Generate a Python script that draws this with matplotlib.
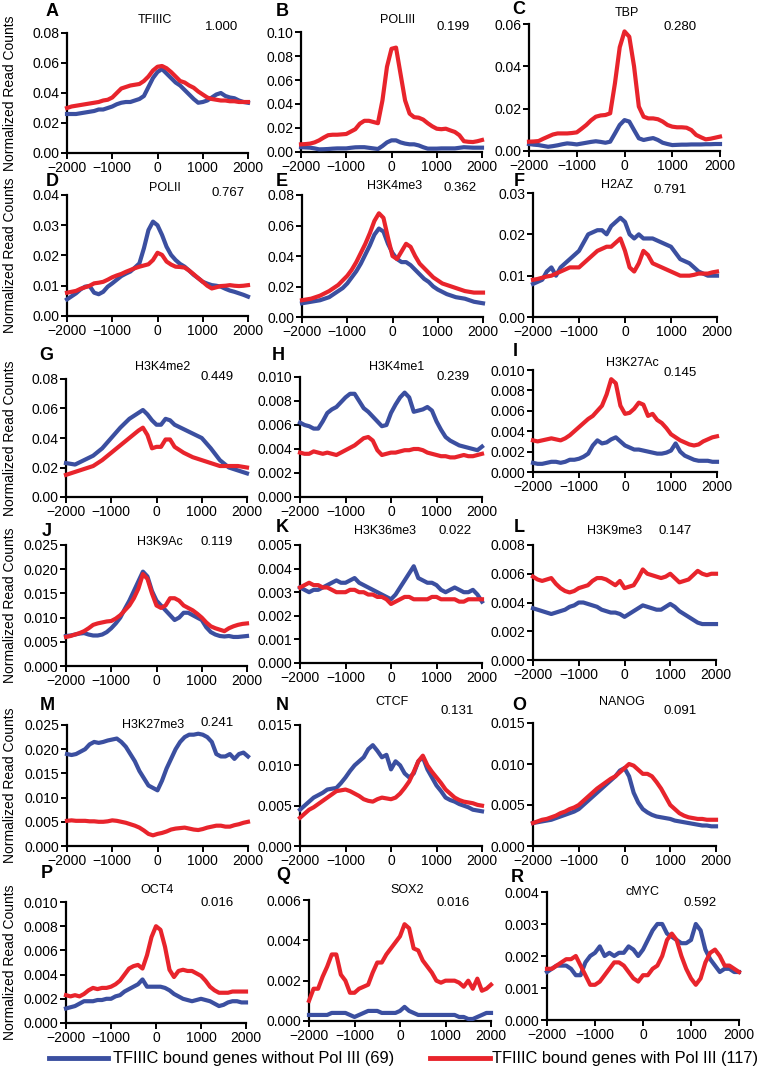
import numpy as np
import matplotlib
matplotlib.use("Agg")
import matplotlib.pyplot as plt
from matplotlib.ticker import FormatStrFormatter

plt.rcParams['font.family'] = ['Liberation Sans', 'DejaVu Sans']

BLUE = '#3b4fa0'
RED = '#e8242c'

# distance from TSS (bp)
pos = np.arange(-2000, 2001, 100)

A_red = [.030,.031,.0315,.032,.0325,.033,.0335,.034,.035,.0355,.037,.040,.043,.044,.045,.0455,.046,.048,.051,.055,
         .0575,.058,.0565,.054,.051,.048,.047,.045,.0435,.041,.039,.037,.036,.0355,.035,.035,.0345,.0345,.034,.034,.034]
A_blue = [.026,.026,.026,.0265,.027,.0275,.028,.029,.029,.030,.031,.0325,.0335,.034,.034,.035,.036,.038,.044,.050,
          .054,.056,.053,.050,.047,.045,.042,.039,.036,.0335,.034,.035,.037,.039,.040,.038,.037,.0365,.035,.034,.0335]

B_red = [.0064,.0066,.007,.008,.0097,.012,.014,.0144,.0144,.0147,.015,.017,.019,.0236,.026,.026,.025,.024,.043,.071,
         .086,.087,.065,.043,.032,.029,.0286,.027,.024,.0214,.0194,.019,.0194,.018,.0167,.014,.009,.0085,.0083,.009,.010]
B_blue = [.004,.0038,.0036,.003,.0022,.0023,.0025,.0028,.003,.003,.003,.0035,.0039,.004,.004,.0035,.003,.0025,.005,.008,
          .0097,.0097,.008,.007,.0064,.0064,.0055,.004,.0028,.0028,.0028,.003,.003,.003,.003,.0035,.004,.0038,.0036,.0036,.0036]

C_red = [.0044,.0045,.0047,.0058,.0068,.0078,.0083,.0083,.0083,.0085,.0088,.0105,.0123,.0145,.0162,.0168,.017,.0178,.032,.049,
         .0565,.054,.040,.021,.0162,.0154,.0154,.015,.0139,.0123,.0115,.0112,.0112,.011,.0099,.0076,.0065,.0055,.0058,.0063,.0068]
C_blue = [.0033,.003,.0028,.0024,.002,.0023,.0027,.0032,.0036,.0034,.0031,.0035,.0039,.0043,.0046,.0043,.0039,.0044,.0083,.0123,
          .0146,.0139,.0099,.006,.0052,.0057,.0061,.0052,.0039,.0033,.0028,.0029,.003,.003,.0031,.0031,.0031,.0032,.0032,.0033,.0033]

D_red = [.0077,.008,.0083,.009,.0095,.010,.0108,.011,.0113,.012,.0128,.0134,.0139,.0146,.0152,.0158,.0163,.0167,.0171,.0185,
         .0209,.0202,.018,.017,.0163,.0162,.016,.015,.0138,.0125,.0113,.010,.0091,.0095,.0099,.010,.0102,.010,.0099,.010,.0102]
D_blue = [.0055,.0065,.0075,.0088,.0097,.0099,.0077,.0072,.008,.0097,.0108,.012,.0132,.014,.0147,.016,.0174,.0224,.0284,.0312,
          .030,.0268,.0229,.0202,.0185,.0172,.0163,.015,.0136,.0125,.0113,.0107,.0102,.010,.0097,.009,.0084,.008,.0075,.007,.0064]

E_red = [.011,.0115,.012,.013,.014,.0155,.017,.019,.021,.024,.027,.031,.036,.042,.048,.055,.063,.068,.065,.052,
         .040,.038,.043,.048,.046,.040,.035,.032,.029,.026,.024,.022,.021,.020,.019,.018,.017,.0165,.016,.016,.016]
E_blue = [.009,.0095,.010,.0105,.011,.012,.013,.015,.017,.019,.022,.026,.030,.035,.041,.047,.054,.058,.056,.048,
          .042,.038,.036,.036,.034,.031,.028,.025,.023,.020,.018,.0165,.015,.014,.013,.0125,.012,.011,.010,.0095,.009]

F_red = [.009,.0092,.0095,.0098,.010,.0105,.011,.0115,.012,.012,.012,.013,.014,.015,.016,.0165,.017,.017,.018,.019,
         .016,.012,.011,.013,.016,.015,.013,.0125,.012,.0115,.011,.0105,.010,.010,.010,.0102,.0105,.0105,.0105,.0108,.011]
F_blue = [.008,.0085,.009,.011,.012,.010,.012,.013,.014,.015,.016,.018,.020,.0205,.021,.021,.020,.022,.023,.024,
          .023,.020,.019,.020,.019,.019,.019,.0185,.018,.0175,.017,.0155,.014,.0135,.013,.012,.011,.0105,.010,.010,.010]

G_red = [.015,.016,.017,.018,.019,.020,.021,.023,.025,.0275,.030,.0325,.035,.0375,.040,.0425,.045,.047,.042,.033,
         .034,.034,.039,.039,.034,.032,.030,.0285,.027,.026,.025,.024,.023,.022,.021,.021,.021,.021,.021,.0205,.020]
G_blue = [.023,.0225,.022,.0235,.025,.0265,.028,.0305,.033,.0365,.040,.0435,.047,.050,.053,.055,.057,.059,.056,.052,
          .049,.049,.053,.052,.049,.0475,.046,.0445,.043,.0415,.040,.0365,.033,.029,.025,.0225,.020,.019,.018,.017,.016]

H_red = [.0037,.0036,.0036,.0038,.0037,.0036,.0037,.0036,.0035,.0037,.0039,.0041,.0043,.0046,.0049,.005,.0047,.0039,.0035,.0036,
         .0037,.0037,.0038,.0039,.0039,.0040,.004,.0039,.0037,.0036,.0035,.0034,.0034,.0033,.0033,.0034,.0035,.0034,.0034,.0035,.0036]
H_blue = [.0062,.006,.0059,.0057,.0057,.0063,.007,.0073,.0075,.0079,.0083,.0086,.0086,.008,.0074,.0071,.0067,.0063,.0059,.006,
          .007,.0077,.0083,.0087,.0083,.0071,.0072,.0073,.0075,.0072,.0063,.0056,.005,.0047,.0045,.0043,.0042,.0041,.004,.0039,.0042]

I_red = [.0031,.003,.0031,.0032,.0033,.0032,.0031,.0033,.0036,.004,.0044,.0048,.0052,.0055,.006,.0065,.0076,.0091,.0087,.0065,
         .0057,.0058,.0062,.0068,.0066,.0055,.0057,.0051,.0048,.0043,.0037,.0034,.0031,.0029,.0027,.0026,.0027,.003,.0032,.0034,.0035]
I_blue = [.0009,.0008,.0008,.0009,.001,.001,.0009,.001,.0012,.0012,.0013,.0015,.0018,.0026,.0031,.0028,.0029,.0032,.0034,.003,
          .0026,.0024,.0022,.0022,.0021,.002,.0019,.0018,.0018,.0019,.0021,.0028,.002,.0016,.0014,.0012,.0011,.0011,.0011,.001,.001]

J_red = [.006,.0062,.0065,.0068,.0072,.0078,.0085,.0088,.009,.0092,.0093,.0098,.0105,.0115,.0125,.014,.016,.019,.018,.015,
         .0125,.012,.0125,.014,.014,.0135,.0125,.012,.0115,.0108,.010,.009,.0082,.0078,.0075,.0072,.0078,.0082,.0085,.0087,.0088]
J_blue = [.0062,.0063,.0065,.0067,.0068,.0065,.0063,.0063,.0065,.007,.0078,.0088,.010,.0118,.0135,.0155,.0175,.0195,.0185,.0155,
          .0135,.0125,.0115,.0105,.0095,.010,.011,.011,.0105,.010,.0095,.008,.007,.0065,.0062,.0061,.0062,.006,.006,.0061,.0062]

K_red = [.0032,.0033,.0034,.0033,.0033,.0032,.0032,.0031,.003,.003,.003,.0031,.0031,.003,.003,.0029,.0029,.0028,.0028,.0027,
         .0025,.0026,.0027,.0028,.0028,.0027,.0027,.0027,.0027,.0028,.0028,.0027,.0027,.0027,.0027,.0026,.0026,.0027,.0027,.0027,.0027]
K_blue = [.0032,.0031,.003,.0031,.0031,.0032,.0033,.0034,.0035,.0034,.0034,.0035,.0036,.0034,.0033,.0032,.0031,.003,.0029,.0028,
          .0027,.0029,.0032,.0035,.0038,.0041,.0036,.0035,.0034,.0034,.0033,.0031,.003,.0031,.0032,.0031,.003,.003,.0031,.0029,.0026]

L_red = [.0058,.0056,.0055,.0056,.0057,.0053,.005,.0048,.0047,.0048,.005,.0051,.0052,.0055,.0057,.0057,.0056,.0054,.0052,.0055,
         .005,.0051,.0052,.0057,.0063,.006,.0059,.0058,.0057,.0058,.006,.0057,.0054,.0055,.0056,.0059,.0062,.006,.0059,.006,.006]
L_blue = [.0036,.0035,.0034,.0033,.0032,.0033,.0034,.0035,.0037,.0038,.004,.004,.0039,.0038,.0037,.0035,.0034,.0033,.0033,.0032,
          .003,.0032,.0034,.0036,.0038,.0037,.0036,.0035,.0035,.0037,.0039,.0037,.0034,.0032,.003,.0028,.0026,.0025,.0025,.0025,.0025]

M_red = [.0052,.0053,.0052,.0052,.0052,.0051,.0051,.005,.005,.0051,.0053,.0052,.005,.0048,.0045,.0042,.0038,.0032,.0025,.0022,
         .0025,.0027,.003,.0034,.0036,.0037,.0038,.0036,.0034,.0033,.0035,.0038,.004,.0042,.0042,.004,.004,.0043,.0045,.0048,.005]
M_blue = [.019,.0188,.019,.0195,.020,.021,.0215,.0213,.0215,.0218,.022,.0222,.0215,.0205,.019,.0175,.0155,.014,.0125,.012,
          .0115,.0135,.016,.018,.020,.0215,.0225,.023,.023,.0232,.023,.0225,.0215,.019,.0185,.0185,.019,.018,.019,.0193,.0185]

N_red = [.0035,.004,.0045,.0048,.0052,.0056,.006,.0064,.0068,.0069,.007,.0068,.0065,.0062,.0058,.0056,.0055,.0058,.006,.0059,
         .0058,.006,.0065,.0072,.008,.0092,.0105,.0112,.010,.0092,.0085,.0078,.007,.0065,.006,.0057,.0055,.0054,.0053,.0051,.005]
N_blue = [.0045,.005,.0055,.006,.0063,.0066,.007,.0071,.0072,.0078,.0085,.0093,.010,.0105,.011,.012,.0125,.0118,.011,.0113,
          .0095,.0105,.010,.009,.0085,.009,.0105,.011,.0095,.0085,.0075,.0068,.006,.0057,.0055,.0052,.005,.0048,.0045,.0044,.0043]

O_red = [.0028,.003,.0032,.0033,.0035,.0037,.004,.0042,.0045,.0047,.005,.0055,.006,.0065,.007,.0074,.0078,.0082,.0085,.009,
         .0095,.010,.0098,.0093,.0088,.0088,.0085,.0078,.007,.006,.005,.0045,.004,.0037,.0035,.0034,.0033,.0033,.0032,.0032,.0032]
O_blue = [.0028,.0029,.003,.0031,.0032,.0034,.0036,.0038,.004,.0042,.0045,.005,.0055,.006,.0065,.007,.0075,.008,.0085,.0092,
          .0095,.0085,.0065,.0053,.0045,.0041,.0038,.0036,.0035,.0034,.0033,.0031,.003,.0029,.0028,.0027,.0026,.0025,.0025,.0024,.0024]

P_red = [.0023,.0022,.0023,.0022,.0024,.0027,.0029,.0028,.0029,.0029,.003,.0032,.0035,.004,.0045,.0047,.0048,.0045,.0056,.0071,
         .008,.0077,.0063,.0044,.0038,.0043,.0044,.0043,.0043,.0041,.0039,.0035,.003,.0027,.0025,.0025,.0025,.0026,.0026,.0026,.0026]
P_blue = [.0012,.0013,.0014,.0016,.0018,.0018,.0018,.0019,.0019,.002,.002,.0022,.0023,.0026,.0028,.003,.0032,.0036,.003,.003,
          .003,.003,.0029,.0027,.0024,.0022,.002,.0019,.0018,.0019,.002,.0019,.0018,.0016,.0014,.0015,.0017,.0018,.0018,.0017,.0017]

Q_red = [.001,.0016,.0016,.0022,.0027,.0033,.0033,.0023,.002,.0014,.0014,.0016,.0017,.0018,.0024,.0029,.0029,.0033,.0036,.0039,
         .0042,.0048,.0046,.0036,.0035,.003,.0027,.0024,.002,.0019,.002,.002,.002,.0019,.0017,.002,.0016,.0021,.0015,.0016,.0018]
Q_blue = [.0003,.0003,.0003,.0003,.0003,.0004,.0004,.0004,.0004,.0003,.0002,.0003,.0004,.0005,.0005,.0005,.0004,.0004,.0004,.0004,
          .0005,.0007,.0005,.0004,.0003,.0003,.0003,.0003,.0003,.0003,.0003,.0003,.0003,.0002,.0002,.0001,.0001,.0002,.0003,.0004,.0004]

R_red = [.0016,.0016,.0017,.0018,.0019,.0019,.002,.0017,.0014,.0011,.0011,.0012,.0014,.0016,.0018,.0018,.0017,.0015,.0013,.0012,
         .0014,.0014,.0016,.0017,.002,.0025,.0027,.0025,.002,.0016,.0013,.0011,.0013,.0018,.0021,.0022,.002,.0017,.0017,.0016,.0015]
R_blue = [.0015,.0016,.0017,.0017,.0017,.0016,.0014,.0014,.0018,.002,.0021,.0023,.002,.0021,.002,.0021,.0021,.0023,.0022,.002,
          .0022,.0025,.0028,.003,.003,.0027,.0026,.0025,.0024,.0024,.0025,.003,.0028,.0022,.0019,.0017,.0015,.0016,.0016,.0015,.0015]

letters = list("ABCDEFGHIJKLMNOPQR")
targets = ["TFIIIC", "POLIII", "TBP", "POLII", "H3K4me3", "H2AZ",
           "H3K4me2", "H3K4me1", "H3K27Ac", "H3K9Ac", "H3K36me3", "H3K9me3",
           "H3K27me3", "CTCF", "NANOG", "OCT4", "SOX2", "cMYC"]
pvalues = ["1.000", "0.199", "0.280", "0.767", "0.362", "0.791",
           "0.449", "0.239", "0.145", "0.119", "0.022", "0.147",
           "0.241", "0.131", "0.091", "0.016", "0.016", "0.592"]
ymax = [0.08, 0.10, 0.06, 0.04, 0.08, 0.03, 0.08, 0.010, 0.010,
        0.025, 0.005, 0.008, 0.025, 0.015, 0.015, 0.010, 0.006, 0.004]
ystep = [0.02, 0.02, 0.02, 0.01, 0.02, 0.01, 0.02, 0.002, 0.002,
         0.005, 0.001, 0.002, 0.005, 0.005, 0.005, 0.002, 0.002, 0.001]
blue_series = [A_blue, B_blue, C_blue, D_blue, E_blue, F_blue, G_blue, H_blue, I_blue,
               J_blue, K_blue, L_blue, M_blue, N_blue, O_blue, P_blue, Q_blue, R_blue]
red_series = [A_red, B_red, C_red, D_red, E_red, F_red, G_red, H_red, I_red,
              J_red, K_red, L_red, M_red, N_red, O_red, P_red, Q_red, R_red]

# panel boxes in pixels: left, right, top, bottom
boxes = [(67, 248, 33, 153), (301, 482, 32, 152), (529, 720, 24, 151),
         (67, 248, 195, 316), (302, 483, 195, 317), (533, 717, 193, 317),
         (66, 247, 379, 497), (300, 482, 377, 497), (533, 717, 370, 472),
         (66, 247, 545, 666), (300, 482, 545, 663), (533, 716, 545, 660),
         (67, 248, 725, 846), (300, 482, 725, 846), (533, 716, 723, 846),
         (66, 246, 902, 1023), (309, 491, 900, 1021), (547, 739, 892, 1020)]
# label positions in pixels: letter, title, value
letter_xy = [(52, 12), (282, 12), (519, 10), (52, 182), (282, 182), (519, 181),
             (46, 355), (278, 355), (515, 352), (47, 531), (282, 528), (519, 528),
             (47, 706), (282, 706), (519, 706), (47, 874), (283, 875), (517, 877)]
title_xy = [(155, 20), (398, 20), (627, 13), (165, 188), (395, 186), (617, 185),
            (163, 367), (397, 367), (632, 363), (160, 542), (385, 531), (615, 531),
            (153, 725), (392, 702), (622, 702), (157, 890), (407, 890), (642, 892)]
value_xy = [(222, 27), (453, 27), (680, 27), (228, 193), (460, 188), (670, 190),
            (217, 377), (453, 377), (680, 373), (217, 542), (455, 531), (675, 531),
            (217, 723), (457, 711), (680, 711), (217, 903), (453, 903), (700, 903)]

W, H = 765, 1077
fig = plt.figure(figsize=(W / 100, H / 100), dpi=100)

for i in range(18):
    l, r, t, b = boxes[i]
    ax = fig.add_axes([l / W, 1 - b / H, (r - l) / W, (b - t) / H])
    ax.plot(pos, blue_series[i], color=BLUE, lw=3, clip_on=False, zorder=3)
    ax.plot(pos, red_series[i], color=RED, lw=3, clip_on=False, zorder=4)
    ax.set_xlim(-2000, 2000)
    ax.set_ylim(0, ymax[i])
    ax.set_xticks([-2000, -1000, 0, 1000, 2000])
    ax.set_yticks(np.arange(0, ymax[i] + ystep[i] / 2, ystep[i]))
    dec = 2 if ystep[i] >= 0.01 else 3
    ax.yaxis.set_major_formatter(FormatStrFormatter('%.' + str(dec) + 'f'))
    for s in ['top', 'right']:
        ax.spines[s].set_visible(False)
    for s in ['left', 'bottom']:
        ax.spines[s].set_linewidth(1.6)
    ax.tick_params(direction='out', length=4, width=1.4, labelsize=10, pad=1.5)

    fig.text(letter_xy[i][0] / W, 1 - letter_xy[i][1] / H, letters[i],
             fontsize=13, fontweight='bold', ha='center', va='center')
    fig.text(title_xy[i][0] / W, 1 - title_xy[i][1] / H, targets[i],
             fontsize=9, ha='center', va='center')
    fig.text(value_xy[i][0] / W, 1 - value_xy[i][1] / H, pvalues[i],
             fontsize=9.5, ha='center', va='center')

# y-axis label for each row
for t, b in [(33, 153), (195, 316), (379, 497), (545, 666), (725, 846), (902, 1023)]:
    fig.text(10 / W, 1 - (t + b) / 2 / H, "Normalized Read Counts",
             rotation=90, fontsize=10, ha='center', va='center')

# legend
ly = 1 - 1058 / H
fig.lines.append(plt.Line2D([49 / W, 108 / W], [ly, ly], color=BLUE, lw=3.5,
                            transform=fig.transFigure))
fig.text(113 / W, ly, "TFIIIC bound genes without Pol III (69)",
         fontsize=11.8, va='center')
fig.lines.append(plt.Line2D([430 / W, 490 / W], [ly, ly], color=RED, lw=3.5,
                            transform=fig.transFigure))
fig.text(492 / W, ly, "TFIIIC bound genes with Pol III (117)",
         fontsize=11.8, va='center')

fig.savefig("out.png", dpi=100)
